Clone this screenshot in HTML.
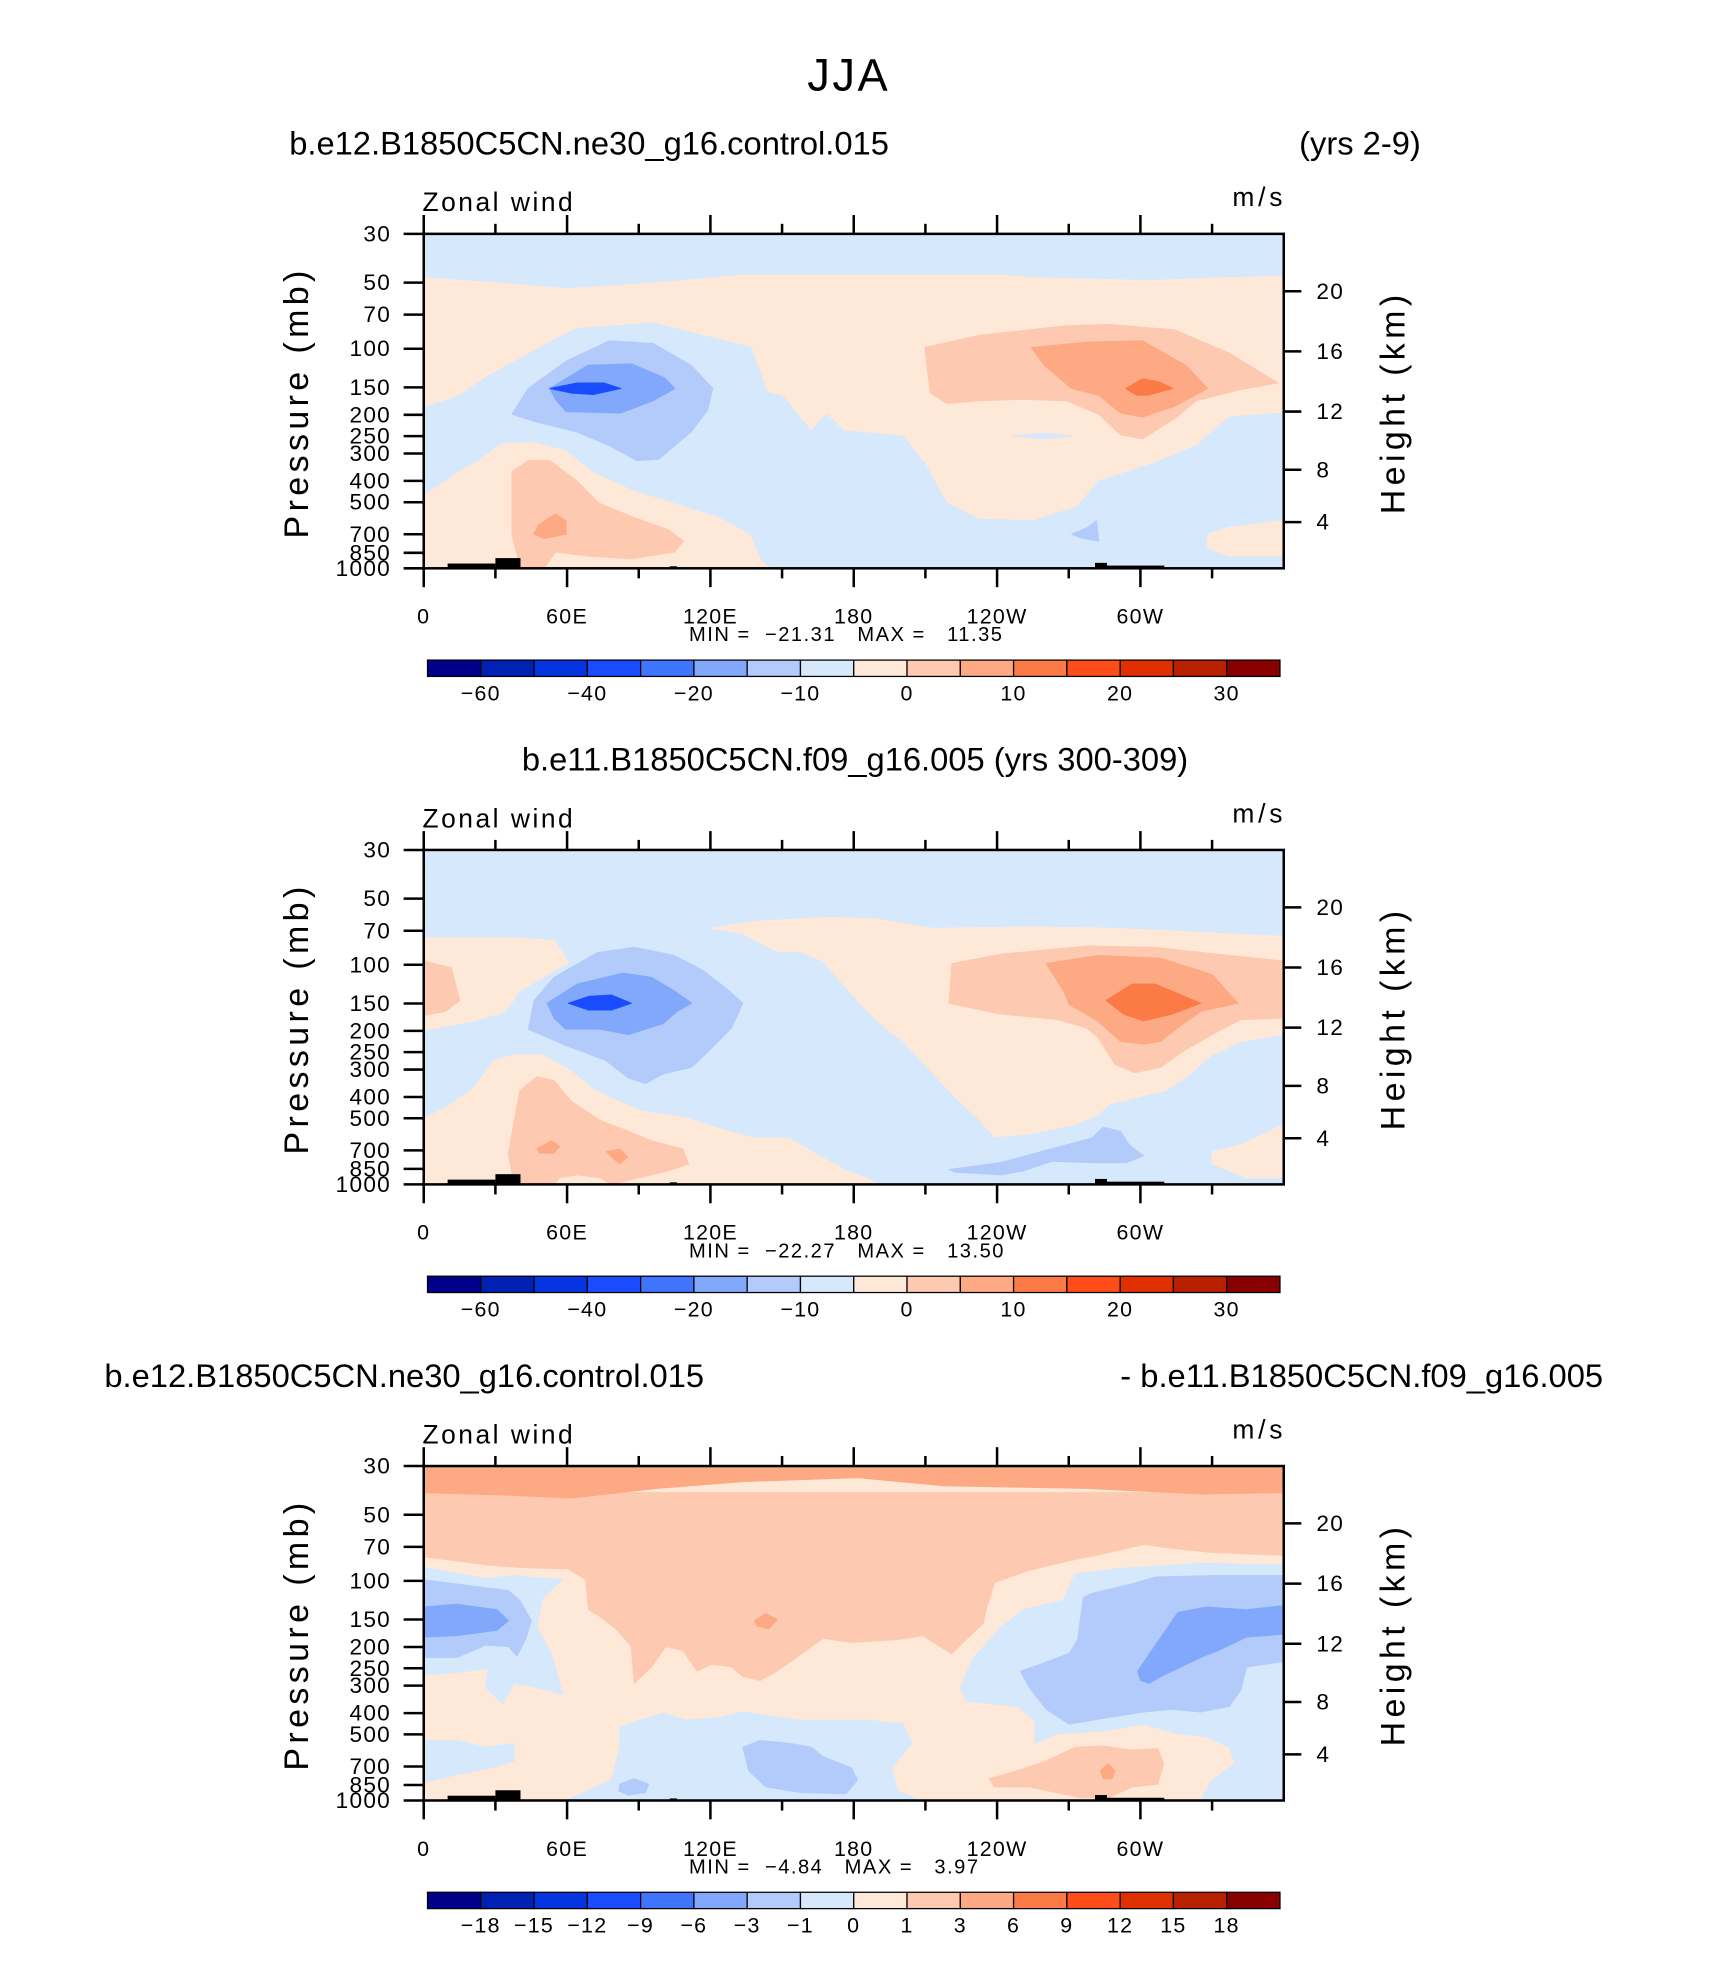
<!DOCTYPE html>
<html><head><meta charset="utf-8"><style>
html,body{margin:0;padding:0;background:#fff;}
svg{display:block;font-family:"Liberation Sans",sans-serif;}
text{white-space:pre;}
</style></head><body>
<svg id="fig" xmlns="http://www.w3.org/2000/svg" width="1710" height="1974" viewBox="0 0 1360 1570">
<rect x="0" y="0" width="1360" height="1570" fill="#fff"/>
<text x="675" y="72" font-size="36" text-anchor="middle" fill="#000" letter-spacing="2">JJA</text>
<text x="230" y="123" font-size="26">b.e12.B1850C5CN.ne30_g16.control.015</text>
<text x="1130" y="123" font-size="26" text-anchor="end">(yrs 2-9)</text>
<text x="680" y="613" font-size="26" text-anchor="middle">b.e11.B1850C5CN.f09_g16.005 (yrs 300-309)</text>
<text x="83" y="1103" font-size="26">b.e12.B1850C5CN.ne30_g16.control.015</text>
<text x="1275" y="1103" font-size="26" text-anchor="end">- b.e11.B1850C5CN.f09_g16.005</text>
<g id="plots"></g>
</svg>
<script>
// ---- data (lon in degrees E, z = log-pressure height km, 7*ln(1000/p)) ----
const pressureTicks = [30,50,70,100,150,200,250,300,400,500,700,850,1000];
const heightTicks = [4,8,12,16,20];
const lonTicks = [0,60,120,180,240,300];
const lonTickLabels = ["0","60E","120E","180","120W","60W"];
const colors = ["#00008a","#0022b4","#0535e0","#1a4cff","#3f74ff","#82a8fb","#b3cbfb","#d6e8fc","#fee9d8","#fdcab1","#fda983","#fc7a45","#ff4d1a","#e03000","#b82000","#880000"];
const cbLabels1 = [["-60",1],["-40",3],["-20",5],["-10",7],["0",9],["10",11],["20",13],["30",15]];
const cbLabels3 = [["-18",1],["-15",2],["-12",3],["-9",4],["-6",5],["-3",6],["-1",7],["0",8],["1",9],["3",10],["6",11],["9",12],["12",13],["15",14],["18",15]];
const minmax = [["-21.31","11.35"],["-22.27","13.50"],["-4.84","3.97"]];
const terrain = [[10,30,0.35],[30,40.5,0.75],[103,106,0.15],[281,286,0.4],[286,310,0.2]];

const p1_topBand = [[0,21.4],[32,21.0],[60,20.6],[96,21.0],[141,21.7],[187,21.9],[233,21.7],[255,21.4],[305,21.2],[333,21.4],[360,21.5],[360,24.55],[0,24.55]];
const p1_cream = [[0,0],[360,0],[360,21.5],[0,21.5]];
const p1_lbLower = [[0,11.8],[14.1,12.6],[27.8,14.2],[41.4,15.5],[55.1,16.8],[64.2,17.6],[96,18.0],[123.3,16.8],[137,16.2],[143.8,12.9],[150.6,12.6],[162,10.1],[168.8,11.3],[175.6,10.1],[200.7,9.7],[209.8,7.7],[218.9,4.8],[232.5,3.6],[255.3,3.5],[273.5,4.5],[282.6,6.4],[305.3,7.7],[323.5,9.0],[337.2,11.1],[360,11.4],[360,0],[146,0],[141.5,0.55],[137,2.5],[123.3,3.8],[105.1,4.8],[86.9,5.8],[71,7.1],[59.6,8.7],[46,9.3],[32.3,9.2],[23.2,8.0],[14.1,7.1],[0,5.4]];
const p1_creamPatch = [[328,2.5],[337,3.0],[360,3.5],[360,0.9],[337,0.9],[328,1.5]];
const p1_red1Low = [[36.9,7.1],[43.7,7.9],[52.8,7.9],[64.2,6.4],[73.3,4.8],[86.9,3.8],[102.8,2.8],[108.7,2.0],[105.1,1.2],[86.9,0.7],[68.7,0.9],[55.1,1.2],[50.5,0],[40.5,0],[36.9,2.5]];
const p1_red2Low = [[48.2,3.2],[55.1,4.0],[59.6,3.5],[59.6,2.5],[50.5,2.2],[46,2.5]];
const p1_blue1 = [[36.9,11.3],[43.7,13.2],[59.6,15.2],[77.8,16.7],[96,16.5],[111.9,14.9],[121,13.2],[118.8,11.6],[111.9,10.0],[98.3,8.0],[89.2,7.9],[77.8,9.0],[64.2,10.0],[46,10.8]];
const p1_blue2 = [[52.8,13.2],[68.7,14.9],[86.9,15.0],[100.6,14.0],[105.1,13.2],[96,12.3],[82.4,11.4],[59.6,11.5],[55.1,12.4]];
const p1_blue3 = [[52.8,13.2],[64.2,13.6],[75.5,13.6],[82.4,13.2],[71,12.75],[61.9,12.85]];
const p1_red1 = [[209.8,16.2],[232.5,17.1],[268.9,17.8],[287.1,17.9],[314.4,17.5],[337.2,15.8],[357.6,13.6],[341.7,13.1],[323.5,12.3],[314.4,11.0],[300.8,9.5],[291.7,9.8],[282.6,11.3],[268.9,12.3],[250.7,12.4],[232.5,12.3],[218.9,12.1],[212,12.9]];
const p1_red2 = [[254.3,16.2],[278,16.6],[300.8,16.7],[309.9,15.8],[319,14.9],[328.1,13.2],[314.4,11.9],[300.8,11.1],[291.7,11.4],[282.6,12.7],[271.2,13.2],[259.8,14.9]];
const p1_red3 = [[293.9,13.2],[300.8,13.9],[307.6,13.7],[313.5,13.2],[303,12.7],[298.5,12.7]];
const p1_lbSmall = [[246.2,9.7],[259.8,9.9],[271.2,9.7],[259.8,9.5]];
const p1_blueSmall = [[271.2,2.5],[278,3.0],[281.6,3.5],[282.6,2.0],[275.7,2.2]];

const p2_creamUR = [[120.5,18.8],[138.4,19.3],[169.6,19.6],[188.7,19.5],[212.7,18.8],[253.4,18.9],[289.3,18.8],[360,18.2],[360,11.0],[342,10.5],[330,9.5],[320.5,8.1],[310.9,6.9],[298.9,6.4],[286.9,5.9],[282.1,5.1],[272.6,4.4],[253.4,3.7],[239,3.5],[231.8,4.9],[222.3,6.4],[215.1,7.8],[200.7,10.5],[191.1,11.8],[181.5,13.5],[172,15.4],[167.2,16.4],[157.6,17.1],[148,17.1],[133.6,18.4]];
const p2_creamBR = [[330,2.4],[342,2.9],[360,4.4],[360,0.5],[344.4,0.5],[330,1.5]];
const p2_creamUL = [[0,18.1],[11.5,18.1],[37.8,18.1],[54.6,17.9],[60.6,16.3],[49.8,15.2],[40.2,14.2],[34.2,12.7],[21.1,12.0],[0,11.3]];
const p2_red1UL = [[0,16.4],[11.5,15.9],[15.1,13.5],[9.1,12.7],[0,12.4]];
const p2_creamLL = [[0,4.8],[11.5,5.9],[21.1,7.1],[29.5,9.1],[37.8,9.5],[49.8,9.5],[61.8,8.3],[71.4,6.9],[90.5,5.4],[109.7,4.9],[121.7,4.2],[138.4,3.4],[152.8,3.4],[162.4,2.4],[176.8,1.0],[188.7,0.2],[190,0],[0,0]];
const p2_red1LL = [[36.6,3.4],[40.2,6.9],[47.4,7.9],[54.6,7.6],[61.8,6.1],[73.8,4.7],[85.7,3.9],[95.3,3.2],[108.5,2.6],[110.9,1.5],[102.5,1.0],[90.5,0.5],[78.6,0],[73.8,0.5],[64.2,0.7],[57,0.5],[54.6,0],[37.8,0],[35.4,2.2]];
const p2_red2a = [[47.4,2.6],[53.4,3.2],[57,2.8],[54.6,2.3],[48.6,2.3]];
const p2_red2b = [[76.6,2.4],[82.1,2.6],[85.3,2.0],[82.1,1.5],[78.6,2.0]];
const p2_blue1 = [[43.8,11.4],[46.2,13.5],[54.6,15.2],[72.6,17.0],[88.1,17.4],[104.9,16.8],[116.9,15.7],[126.5,14.4],[133.6,13.3],[128.9,11.5],[119.3,9.8],[112.1,8.6],[100.1,8.1],[92.9,7.4],[85.7,7.8],[76.2,9.1],[59.4,10.2]];
const p2_blue2 = [[51.7,13.3],[64.2,14.7],[83.3,15.5],[95.3,15.2],[104.9,14.2],[112.1,13.3],[106.1,12.7],[100.1,11.8],[85.7,11.0],[73.8,11.4],[59.4,11.4],[54.6,12.2]];
const p2_blue3 = [[60.6,13.3],[69,13.8],[78.6,13.9],[86.9,13.3],[78.6,12.8],[69,12.8]];
const p2_red1 = [[221.1,16.2],[241.4,16.9],[277.3,17.5],[306.1,17.4],[337.2,16.8],[360,16.4],[360,12.2],[342,12.1],[330,11.0],[318.1,9.8],[308.5,8.6],[297.7,8.2],[289.3,8.8],[282.1,10.8],[277.3,11.5],[265.4,12.1],[241.4,12.5],[219.9,13.3]];
const p2_red2 = [[260.6,16.2],[282.1,16.8],[308.5,16.6],[330,15.4],[340.8,13.3],[325.2,12.7],[315.7,11.5],[308.5,10.5],[301.3,10.3],[291.7,10.5],[282.1,12.0],[270.2,13.2],[267.8,14.2]];
const p2_red3 = [[285.7,13.5],[296.5,14.7],[306.1,14.7],[325.2,13.3],[313.3,12.5],[301.3,12.0],[292.9,12.5]];
const p2_blueBR = [[219.9,1.1],[241.4,1.6],[258.2,2.4],[279.7,3.4],[284.5,4.2],[291.7,3.9],[295.3,2.9],[301.3,2.1],[294.1,1.6],[279.7,1.6],[263,1.7],[251,1.0],[241.4,0.7],[222.3,0.9]];

const p3_cream = [[0,0],[360,0],[360,24.55],[0,24.55]];
const p3_red1 = [[0,22.6],[0,17.9],[25.9,17.3],[40.2,17.1],[60.6,17.0],[67.8,16.2],[69,14.0],[73.8,13.5],[81,12.5],[86.9,11.3],[88.1,8.6],[95.3,9.8],[101.3,11.3],[108.5,11.0],[114.5,9.5],[120.5,10.0],[128.9,9.8],[133.6,9.1],[140.8,8.8],[148,9.5],[162.4,11.3],[167.2,11.9],[179.1,11.6],[198.3,11.8],[209.1,12.1],[215.1,11.4],[221.1,10.8],[227,11.8],[234.2,13.0],[235.4,14.0],[239,16.0],[253.4,16.9],[270.2,17.6],[284.5,18.1],[301.3,18.8],[313.3,18.5],[330,18.2],[360,18.0],[360,22.6]];
const p3_band = [[0,24.55],[360,24.55],[360,22.6],[325.2,22.5],[277.3,22.9],[217.5,23.1],[181.5,23.7],[133.6,23.4],[97.7,22.9],[61.8,22.2],[37.8,22.4],[0,22.6]];
const p3_lb1 = [[0,17.1],[25.9,16.3],[37.8,16.5],[58.2,16.2],[49.8,14.9],[47.4,12.7],[53.4,10.8],[58.2,7.8],[49.8,8.2],[37.8,8.6],[33.1,7.1],[25.9,8.3],[27.1,9.7],[13.9,9.4],[0,9.2]];
const p3_lb2 = [[82.1,5.4],[90.5,5.9],[100.1,6.4],[109.7,5.9],[124.1,6.1],[133.6,6.5],[157.6,5.9],[186.3,5.9],[200.7,5.6],[204.3,4.2],[195.9,2.4],[198.3,0.7],[205.5,0.2],[205.5,0],[59.4,0],[78.6,1.5],[82.1,3.9]];
const p3_lb3 = [[360,17.3],[325.2,17.4],[289.3,17.0],[272.6,16.6],[267.8,14.7],[251,14.0],[241.4,12.7],[229.4,10.3],[224.7,8.3],[227,7.3],[248.6,6.9],[255.8,5.9],[255.8,4.2],[265.4,4.9],[284.5,5.1],[301.3,5.6],[315.7,4.9],[327.6,4.7],[337.2,3.9],[339.6,2.7],[330,1.5],[325.2,0],[360,0]];
const p3_lb4 = [[0,4.4],[13.9,4.4],[25.9,3.9],[37.8,4.2],[37.8,2.9],[28.3,2.4],[13.9,1.9],[0,1.3]];
const p3_blue1L = [[0,16.2],[35.4,15.4],[40.2,14.7],[45,13.2],[42.6,11.8],[39,10.6],[35.4,11.3],[25.9,11.4],[13.9,10.5],[0,10.5]];
const p3_blue2L = [[0,14.2],[13.9,14.4],[30.7,14.0],[35.4,13.2],[30.7,12.5],[13.9,12.1],[0,12.0]];
const p3_blue1R = [[279.7,15.2],[296.5,15.9],[306.1,16.4],[330,16.5],[360,16.5],[360,10.2],[344.4,9.8],[342,8.1],[337.2,6.9],[325.2,6.5],[313.3,6.7],[301.3,6.5],[286.9,6.1],[270.2,5.6],[260.6,6.7],[253.4,8.3],[249.8,9.5],[258.2,10.0],[270.2,10.8],[273.7,11.8],[276.1,14.9]];
const p3_blue2R = [[298.9,9.5],[315.7,13.8],[327.6,14.2],[344.4,14.0],[360,14.3],[360,12.2],[344.4,12.0],[332.4,11.0],[325.2,10.5],[308.5,9.1],[303.7,8.6],[300.1,8.8]];
const p3_blue1M = [[133.6,3.9],[140.8,4.4],[152.8,4.2],[162.4,3.9],[167.2,3.2],[179.1,2.4],[181.5,1.5],[176.8,0.5],[157.6,0.6],[143.2,1.0],[136,2.2]];
const p3_blue1S = [[82.1,1.2],[88.1,1.6],[94.1,1.2],[92.9,0.6],[85.7,0.4],[81.7,0.7]];
const p3_red1BR = [[236.6,1.6],[248.6,2.2],[260.6,2.9],[272.6,3.9],[284.5,4.0],[296.5,3.7],[307.3,3.8],[309.7,2.7],[307.3,1.2],[296.5,1.0],[286.9,0.2],[274.9,0.2],[253.4,1.0],[239,1.0]];
const p3_red2a = [[138.4,13.2],[143.2,13.7],[148,13.3],[144.4,12.6],[139.6,12.8]];
const p3_red2b = [[283.3,2.2],[286.4,2.7],[289.3,2.2],[288.1,1.6],[284.5,1.6]];

// layers: [polygon, colour index]
const panel1Layers = [[p1_cream,8],[p1_topBand,7],[p1_lbLower,7],[p1_creamPatch,8],[p1_red1Low,9],[p1_red2Low,10],[p1_blue1,6],[p1_blue2,5],[p1_blue3,3],[p1_red1,9],[p1_red2,10],[p1_red3,11],[p1_lbSmall,7],[p1_blueSmall,6]];
const panel2Layers = [[p2_creamUR,8],[p2_creamBR,8],[p2_creamUL,8],[p2_red1UL,9],[p2_creamLL,8],[p2_red1LL,9],[p2_red2a,10],[p2_red2b,10],[p2_blue1,6],[p2_blue2,5],[p2_blue3,3],[p2_red1,9],[p2_red2,10],[p2_red3,11],[p2_blueBR,6]];
const panel3Layers = [[p3_cream,8],[p3_red1,9],[p3_band,10],[p3_lb1,7],[p3_lb2,7],[p3_lb3,7],[p3_lb4,7],[p3_blue1L,6],[p3_blue2L,5],[p3_blue1R,6],[p3_blue2R,5],[p3_blue1M,6],[p3_blue1S,6],[p3_red1BR,9],[p3_red2a,10],[p3_red2b,10]];

// ---- drawing ----
const NS = "http://www.w3.org/2000/svg";
const X0 = 337, X1 = 1021, PH = 266, ZTOP = 7*Math.log(1000/30);
function xOf(lon){ return X0 + lon*(X1-X0)/360; }
function yOfZ(z, top){ return top + PH - z*PH/ZTOP; }
function yOfP(p, top){ return yOfZ(7*Math.log(1000/p), top); }
function pOfHeight(km){ const m = km*1000; return m <= 11000 ? 1013.25*Math.pow(1-2.2558e-5*m,5.256) : 226.32*Math.exp(-(m-11000)/6341.6); }
function mk(tag, attrs, parent){ const e = document.createElementNS(NS, tag); for (const k in attrs) e.setAttribute(k, attrs[k]); parent.appendChild(e); return e; }
const root = document.getElementById("plots");

function drawPanel(idx, top, layers, cbLab){
  const g = mk("g", {}, root);
  
  
  const clipId = "clip" + idx;
  const cp = mk("clipPath", {id: clipId}, g);
  mk("rect", {x: X0, y: top, width: X1-X0, height: PH}, cp);
  const pg = mk("g", {"clip-path": "url(#" + clipId + ")"}, g);
  const bg = mk("rect", {x: X0, y: top, width: X1-X0, height: PH, fill: colors[7]}, pg);
  
  
  layers.forEach((L, i) => {
    const pts = L[0].map(p => xOf(p[0]).toFixed(1) + "," + yOfZ(p[1], top).toFixed(1)).join(" ");
    const poly = mk("polygon", {points: pts, fill: colors[L[1]], stroke: colors[L[1]], "stroke-width": "0.8", "stroke-linejoin": "round"}, pg);
    
    
  });
  terrain.forEach(t => {
    const r = mk("rect", {x: xOf(t[0]), y: yOfZ(t[2], top), width: xOf(t[1]) - xOf(t[0]), height: yOfZ(0, top) - yOfZ(t[2], top), fill: "#000"}, pg);
    
    
  });
  const frame = mk("rect", {x: X0, y: top, width: X1-X0, height: PH, fill: "none", stroke: "#000", "stroke-width": 2}, g);
  
  
  for (let lon = 0; lon <= 330; lon += 30) {
    const major = lon % 60 === 0, x = xOf(lon), len = major ? 15 : 8;
    const t1 = mk("line", {x1: x, x2: x, y1: top, y2: top - len, stroke: "#000", "stroke-width": 2}, g);
    
    
    const t2 = mk("line", {x1: x, x2: x, y1: top + PH, y2: top + PH + len, stroke: "#000", "stroke-width": 2}, g);
    
    
  }
  lonTicks.forEach((lon, i) => {
    const tx = mk("text", {x: xOf(lon), y: top + PH + 44, "font-size": 17, "text-anchor": "middle", "letter-spacing": "1"}, g);
    tx.textContent = lonTickLabels[i];
    
    
  });
  pressureTicks.forEach(p => {
    const y = yOfP(p, top);
    const t = mk("line", {x1: X0 - 16, x2: X0, y1: y, y2: y, stroke: "#000", "stroke-width": 2}, g);
    
    
    const tx = mk("text", {x: 311, y: y + 6, "font-size": 18, "text-anchor": "end", "letter-spacing": "1"}, g);
    tx.textContent = String(p);
    
    
  });
  heightTicks.forEach(h => {
    const y = yOfP(pOfHeight(h), top);
    const t = mk("line", {x1: X1, x2: X1 + 14, y1: y, y2: y, stroke: "#000", "stroke-width": 2}, g);
    
    
    const tx = mk("text", {x: 1047, y: y + 6, "font-size": 18, "letter-spacing": "1"}, g);
    tx.textContent = String(h);
    
    
  });
  const yl = mk("text", {x: 0, y: 0, "font-size": 27, "text-anchor": "middle", "letter-spacing": "3.5", transform: "translate(245," + (top + 134) + ") rotate(-90)"}, g);
  yl.textContent = "Pressure (mb)";
  
  
  const yr = mk("text", {x: 0, y: 0, "font-size": 27, "text-anchor": "middle", "letter-spacing": "3.5", transform: "translate(1117," + (top + 134) + ") rotate(-90)"}, g);
  yr.textContent = "Height (km)";
  
  
  const zl = mk("text", {x: 336, y: top - 18, "font-size": 21, "letter-spacing": "2"}, g);
  zl.textContent = "Zonal wind";
  
  
  const ul = mk("text", {x: 1023, y: top - 22, "font-size": 21, "text-anchor": "end", "letter-spacing": "3"}, g);
  ul.textContent = "m/s";
  
  
  const mm = mk("text", {x: 548, y: top + PH + 58, "font-size": 16, "letter-spacing": "1.2"}, g);
  mm.textContent = "MIN =  " + minmax[idx][0].replace("-", "\u2212") + "   MAX =   " + minmax[idx][1];
  
  
  const cbY = top + 339, cbX = 340, bw = 42.375;
  colors.forEach((c, i) => {
    const r = mk("rect", {x: cbX + i*bw, y: cbY, width: bw, height: 13, fill: c, stroke: "#000", "stroke-width": 1}, g);
    
    
  });
  cbLab.forEach(l => {
    const tx = mk("text", {x: cbX + l[1]*bw, y: cbY + 32, "font-size": 17, "text-anchor": "middle", "letter-spacing": "1"}, g);
    tx.textContent = l[0].replace("-", "\u2212");
    
    
  });
}
drawPanel(0, 186, panel1Layers, cbLabels1);
drawPanel(1, 676, panel2Layers, cbLabels1);
drawPanel(2, 1166, panel3Layers, cbLabels3);
</script>
</body></html>
